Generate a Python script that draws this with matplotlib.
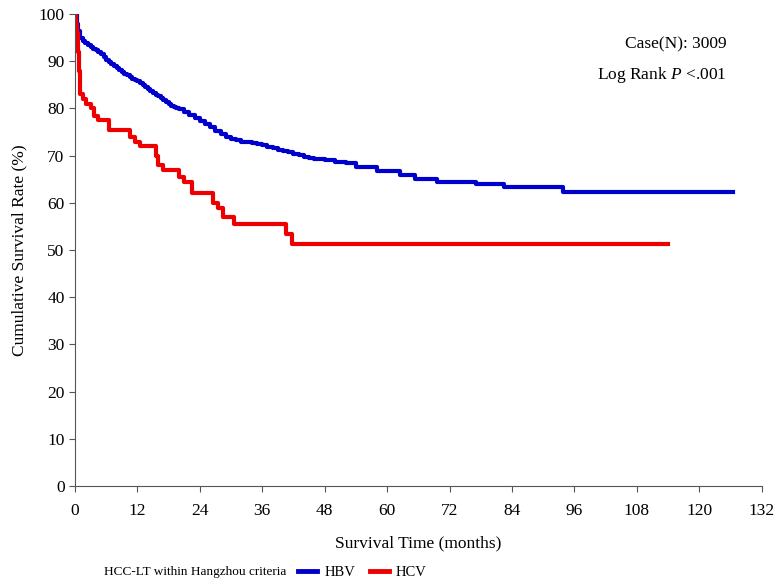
import matplotlib
matplotlib.use("Agg")
import matplotlib.pyplot as plt
from matplotlib.lines import Line2D

plt.rcParams["font.family"] = ["Liberation Serif", "DejaVu Serif"]
plt.rcParams["mathtext.fontset"] = "custom"
plt.rcParams["mathtext.rm"] = "Liberation Serif"
plt.rcParams["mathtext.it"] = "Liberation Serif:italic"

# Kaplan-Meier estimates (months, %)
hbv_time = [0, 0.3, 0.6, 1, 1.5, 2, 2.5, 3, 3.5, 4, 4.5, 5, 5.5, 6, 6.5, 7, 7.5, 8,
            8.5, 9, 9.5, 10, 10.5, 11, 11.5, 12, 12.5, 13, 13.5, 14, 14.5, 15, 15.5,
            16, 16.5, 17, 17.5, 18, 18.5, 19, 19.5, 20, 21, 22, 23, 24, 25, 26, 27,
            28, 29, 30, 31, 32, 33, 34, 35, 36, 37, 38, 39, 40, 41, 42, 43, 44, 45,
            46, 47, 48, 50, 52, 54, 58, 62.5, 65.3, 69.5, 77, 82.5, 93.8, 126.5]
hbv_surv = [100, 98, 96.5, 95, 94.4, 93.8, 93.4, 93, 92.6, 92.3, 91.9, 91.5, 90.9,
            90.3, 89.9, 89.5, 89.0, 88.5, 88.1, 87.8, 87.4, 87, 86.6, 86.3, 86.0,
            85.8, 85.4, 85, 84.6, 84.2, 83.7, 83.3, 82.9, 82.6, 82.2, 81.8, 81.4, 81,
            80.6, 80.3, 80.0, 79.8, 79.2, 78.6, 78, 77.4, 76.8, 76, 75.2, 74.6, 74,
            73.6, 73.3, 73, 72.8, 72.6, 72.4, 72.2, 71.9, 71.6, 71.3, 71, 70.7, 70.4,
            70.1, 69.8, 69.6, 69.4, 69.2, 69.0, 68.7, 68.4, 67.6, 66.7, 65.9, 65.0,
            64.4, 64.0, 63.3, 62.3, 62.3]

hcv_time = [0, 0.2, 0.4, 0.6, 0.8, 1.0, 1.5, 2.2, 3.0, 3.6, 4.5, 6.5, 10.5, 11.5,
            12.5, 15.5, 16.0, 17.0, 20.0, 21.0, 22.5, 26.5, 27.5, 28.5, 30.5, 40.5,
            41.8, 114]
hcv_surv = [100, 98, 96, 92, 88, 83, 82, 81, 80, 78.5, 77.5, 75.5, 74, 73, 72, 70,
            68, 67, 65.5, 64.5, 62, 60, 59, 57, 55.5, 53.5, 51.2, 51.2]

x_ticks = list(range(0, 133, 12))
y_ticks = list(range(0, 101, 10))

blue = "#0000cc"
red = "#ee0000"

fig = plt.figure(figsize=(7.78, 5.88), dpi=100)
ax = fig.add_axes([0.0964, 0.1735, 0.8826, 0.8025])

ax.plot(hbv_time, hbv_surv, drawstyle="steps-post", color=blue, lw=3)
ax.plot(hcv_time, hcv_surv, drawstyle="steps-post", color=red, lw=3)

ax.set_xlim(0, 132)
ax.set_ylim(0, 100)
ax.set_xticks(x_ticks)
ax.set_yticks(y_ticks)
ax.tick_params(labelsize=12.5, direction="out", length=4, color="#555555")
ax.tick_params(axis="x", pad=8)
ax.spines["top"].set_visible(False)
ax.spines["right"].set_visible(False)
ax.spines["left"].set_color("#555555")
ax.spines["bottom"].set_color("#555555")

ax.set_xlabel("Survival Time (months)", fontsize=12.5, labelpad=12)
ax.set_ylabel("Cumulative Survival Rate (%)", fontsize=12.5, labelpad=8)

fig.text(727 / 778, 1 - 44 / 588, "Case(N): 3009", ha="right", va="center", fontsize=12.5)
fig.text(727 / 778, 1 - 75 / 588, "Log Rank $P$ <.001", ha="right", va="center", fontsize=12.5)

# bottom legend
fig.text(104 / 778, 1 - 572 / 588, "HCC-LT within Hangzhou criteria", ha="left", va="center", fontsize=9.5)
handles = [Line2D([], [], color=blue, lw=3.5), Line2D([], [], color=red, lw=3.5)]
fig.legend(handles, ["HBV", "HCV"], loc="center left", bbox_to_anchor=(298 / 778, 1 - 572 / 588),
           ncol=2, frameon=False, fontsize=10.5, handlelength=1.3, handletextpad=0.5,
           columnspacing=1.0, borderaxespad=0, borderpad=0)

fig.savefig("out.png", dpi=100)
